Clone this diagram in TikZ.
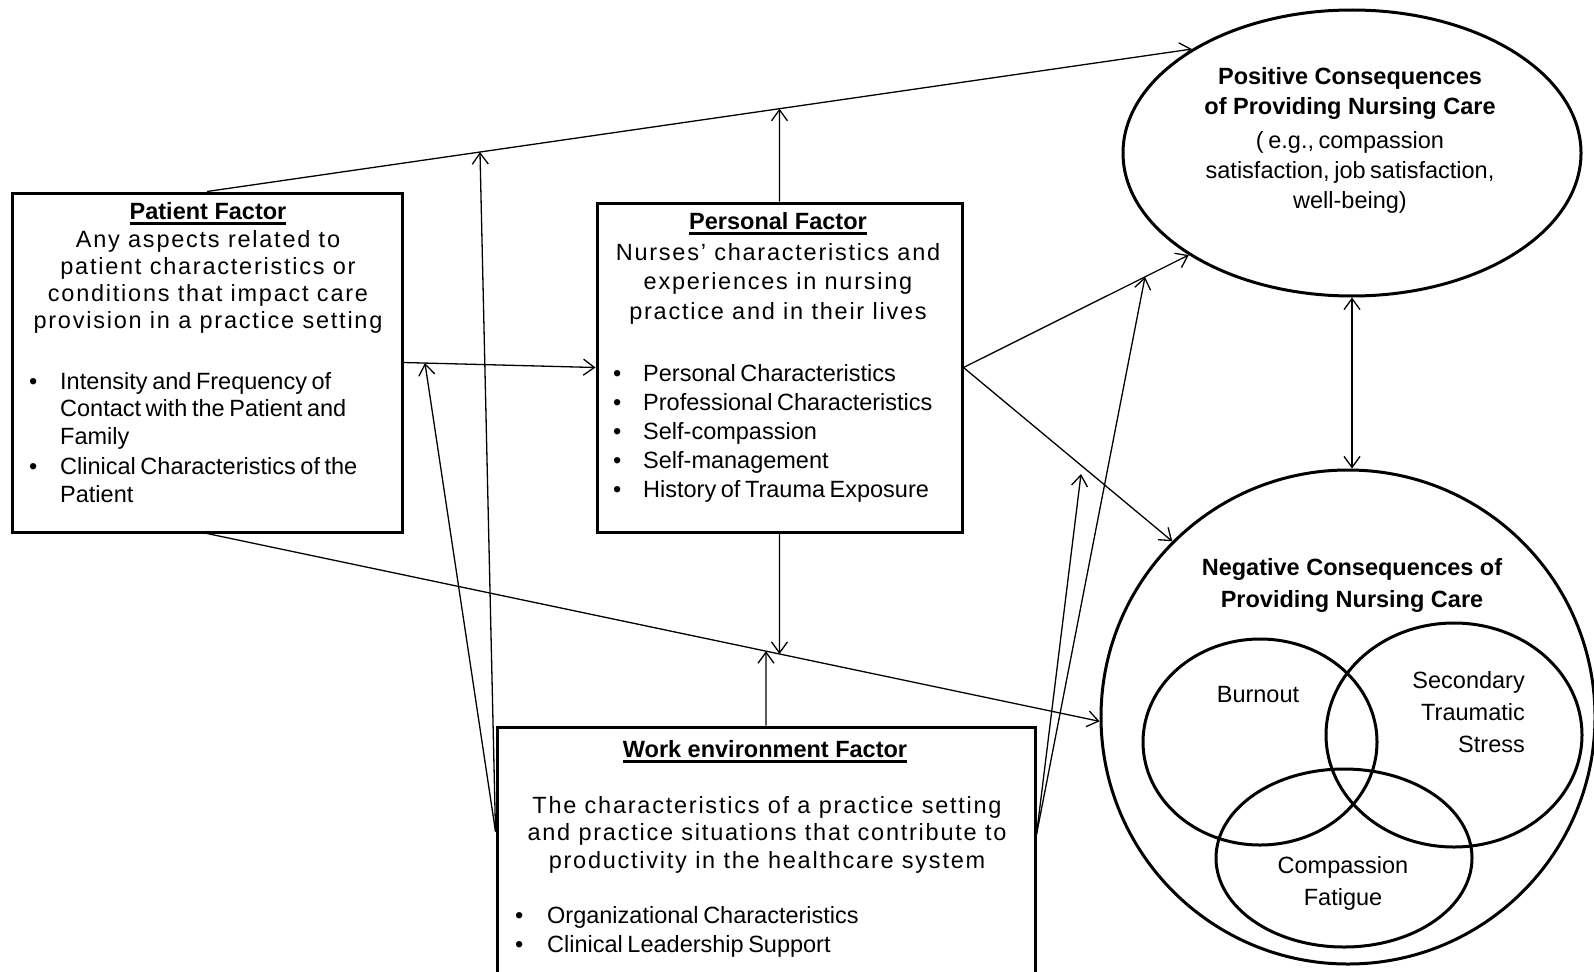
\documentclass[tikz,border=0pt]{standalone}
\usepackage{fontspec}
\setmainfont{Liberation Sans}
\newfontfamily\tightfont{Liberation Sans}[WordSpace=0.7]
\newfontfamily\widefont{Liberation Sans}[LetterSpace=7.5]
\usetikzlibrary{positioning,shapes.geometric,arrows.meta}

\newcommand{\ulbox}[1]{\setbox0=\hbox{#1}\rlap{\rule[-5.5pt]{\wd0}{2.5pt}}\box0}
\newcommand{\bul}[1][31pt]{\makebox[#1][l]{\textbullet}}

\tikzset{
  factor/.style={draw, rectangle, line width=3pt, inner sep=0pt},
  bubble/.style={draw, ellipse, line width=3pt, inner sep=0pt},
  conn/.style={line width=1.3pt, -{Straight Barb[length=11pt,width=16pt]}},
  biconn/.style={line width=1.3pt, {Straight Barb[length=11pt,width=16pt]}-{Straight Barb[length=11pt,width=16pt]}},
  heading/.style={font=\fontsize{23.5}{31}\selectfont\bfseries, align=center, anchor=base, inner sep=0pt},
  desc/.style={font=\fontsize{23.5}{26.7}\widefont, align=center, anchor=base, inner sep=0pt},
  bullets/.style={font=\fontsize{23.5}{28}\tightfont, align=left, anchor=base west, inner sep=0pt},
  label/.style={font=\fontsize{23.5}{32}\selectfont, align=center, anchor=base, inner sep=0pt}
}

\begin{document}
\begin{tikzpicture}[x=1pt,y=-1pt]
    \useasboundingbox (0,0) rectangle (1594,971);

    \node[factor, minimum width=390pt, minimum height=339pt] (patient) at (207,362.5) {};
    \node[factor, minimum width=365pt, minimum height=329pt] (personal) at (779.5,367.5) {};
    \node[factor, minimum width=538pt, minimum height=263pt] (work) at (766,858.5) {};
    \node[bubble, minimum width=458pt, minimum height=286pt] (positive) at (1352,153) {};
    \node[bubble, circle, minimum size=494pt] (negative) at (1348,717) {};
    \node[bubble, minimum width=234pt, minimum height=206pt] (burnout) at (1260,742) {};
    \node[bubble, minimum width=256pt, minimum height=224pt] (sts) at (1454,735) {};
    \node[bubble, minimum width=256pt, minimum height=178pt] (fatigue) at (1344,858) {};

    \node[heading] (patienttitle) at (208,219) {\ulbox{Patient Factor}};
    \node[desc] (patientdesc) at (208,328) {Any aspects related to\\patient characteristics or\\conditions that impact care\\provision in a practice setting};
    \node[bullets, font=\fontsize{23.5}{27.5}\tightfont] (patientlist) at (29,502) {\bul Intensity and Frequency of\\\hspace*{31pt}Contact with the Patient and\\\hspace*{31pt}Family\\[3pt]\bul Clinical Characteristics of the\\\hspace*{31pt}Patient};

    \node[heading] (personaltitle) at (778,229) {\ulbox{Personal Factor}};
    \node[desc, font=\fontsize{23.5}{29.5}\widefont] (personaldesc) at (778,319) {Nurses’ characteristics and\\experiences in nursing\\practice and in their lives};
    \node[bullets, font=\fontsize{23.5}{28.8}\tightfont] (personallist) at (613,497) {\bul[30pt]Personal Characteristics\\\bul[30pt]Professional Characteristics\\\bul[30pt]Self-compassion\\\bul[30pt]Self-management\\\bul[30pt]History of Trauma Exposure};

    \node[heading] (worktitle) at (765,757) {\ulbox{Work environment Factor}};
    \node[desc, font=\fontsize{23.5}{27.5}\widefont] (workdesc) at (767,868) {The characteristics of a practice setting\\and practice situations that contribute to\\productivity in the healthcare system};
    \node[bullets, font=\fontsize{23.5}{28.5}\tightfont] (worklist) at (515,952) {\bul[32pt]Organizational Characteristics\\\bul[32pt]Clinical Leadership Support};

    \node[heading, font=\fontsize{23.5}{30}\selectfont\bfseries] (positivetitle) at (1350,115) {Positive Consequences\\of Providing Nursing Care};
    \node[label, font=\fontsize{23.5}{30}\tightfont] (positivedesc) at (1350,208) {( e.g., compassion\\satisfaction, job satisfaction,\\well-being)};

    \node[heading, font=\fontsize{23.5}{32}\selectfont\bfseries] (negativetitle) at (1352,607) {Negative Consequences of\\Providing Nursing Care};
    \node[label, font=\fontsize{23.5}{32}\tightfont] (burnouttext) at (1258,702) {Burnout};
    \node[label, align=right, anchor=base east] (ststext) at (1525,752) {Secondary\\Traumatic\\Stress};
    \node[label] (fatiguetext) at (1343,905) {Compassion\\Fatigue};

    \coordinate (wl) at ([yshift=-106pt]work.north west);
    \coordinate (wr) at ([yshift=-109pt]work.north east);
    \coordinate (tapa) at (intersection of patient.north--positive.147 and personal.south--personal.north);
    \coordinate (tapb) at (intersection of patient.north--positive.147 and 480,0--480,500);
    \coordinate (tapc) at (intersection of patient.east--personal.west and 425,0--425,500);
    \coordinate (tapd) at (intersection of patient.south--negative.181 and personal.north--personal.south);
    \coordinate (tape) at (intersection of patient.south--negative.181 and work.south--work.north);
    \coordinate (tapf) at (intersection of personal.east--positive.212 and 1145,0--1145,500);
    \coordinate (tapg) at (1081,474);

    \draw[conn] (patient.north) -- (positive.147);
    \draw[conn] (patient.east) -- (personal.west);
    \draw[conn] (patient.south) -- (negative.181);
    \draw[conn] (personal.north) -- (tapa);
    \draw[conn] (personal.east) -- (positive.212);
    \draw[conn] (personal.east) -- (negative.135);
    \draw[conn] (personal.south) -- (tapd);
    \draw[conn] (work.north) -- (tape);
    \draw[conn] (wl) -- (tapb);
    \draw[conn] (wl) -- (tapc);
    \draw[conn] (wr) -- (tapf);
    \draw[conn] (wr) -- (tapg);
    \draw[biconn] (positive.south) -- (positive.south |- negative.north);
\end{tikzpicture}
\end{document}
